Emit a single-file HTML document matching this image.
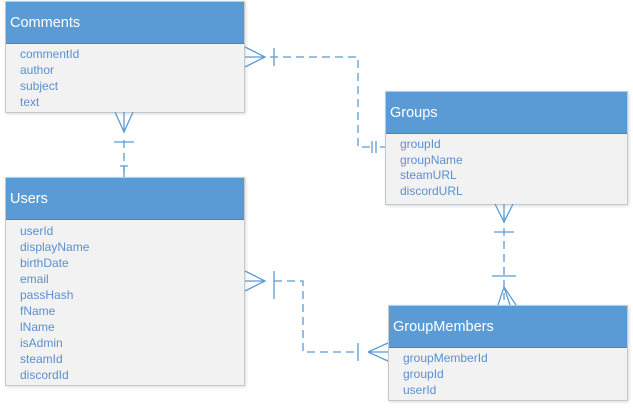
<!DOCTYPE html>
<html><head><style>
body{margin:0;width:633px;height:408px;background:#fff;position:relative;font-family:"Liberation Sans",sans-serif;overflow:hidden}
.e{position:absolute;background:#f2f2f2;border:1px solid #c4c9cf;box-shadow:1px 1px 3px rgba(0,0,0,.15);box-sizing:border-box}
.h{background:#5b9bd5;color:#fff;font-size:14.5px;padding-left:4px;box-sizing:border-box;border-bottom:1px solid #4a86bd}
.f{color:#5b8fd0;font-size:12px;padding-left:14px;line-height:16px;padding-top:2px}
svg{position:absolute;left:0;top:0}
</style></head><body>
<div class="e" style="left:5px;top:1px;width:240px;height:112px"><div class="h" style="height:42px;line-height:42px">Comments</div><div class="f">commentId<br>author<br>subject<br>text</div></div>
<div class="e" style="left:385px;top:91px;width:243px;height:114px"><div class="h" style="height:42px;line-height:42px">Groups</div><div class="f" style="line-height:15.5px;padding-top:3px">groupId<br>groupName<br>steamURL<br>discordURL</div></div>
<div class="e" style="left:5px;top:177px;width:240px;height:209px"><div class="h" style="height:42px;line-height:42px">Users</div><div class="f" style="padding-top:3px">userId<br>displayName<br>birthDate<br>email<br>passHash<br>fName<br>lName<br>isAdmin<br>steamId<br>discordId</div></div>
<div class="e" style="left:388px;top:305px;width:240px;height:96px"><div class="h" style="height:42px;line-height:42px">GroupMembers</div><div class="f" style="padding-top:2px">groupMemberId<br>groupId<br>userId</div></div>
<svg width="633" height="408" fill="none" stroke="#5b9bd5" stroke-width="1.3">
<g stroke-dasharray="8,5">
<path d="M270 57H358V147H372"/>
<path d="M124 140V172"/>
<path d="M274 281H303V352H355"/>
<path d="M504 215V300"/>
</g>
<path d="M245 47L265 57L245 67M245 57H265M274 48V66M372 141V153M376 141V153M380 147H385"/>
<path d="M115 112L124 132L133 112M124 112V132M114 142H134M120 166H128M124 166V177"/>
<path d="M245 271L265 281L245 291M245 281H265M274 271V299M358 343V361M368 352L388 343M368 352L388 361M368 352H388"/>
<path d="M495 204L504 222L513 204M504 204V222M494 232H514M492 276H516M498 305L504 287L510 305M504 287L516 305"/>
</svg>
</body></html>
